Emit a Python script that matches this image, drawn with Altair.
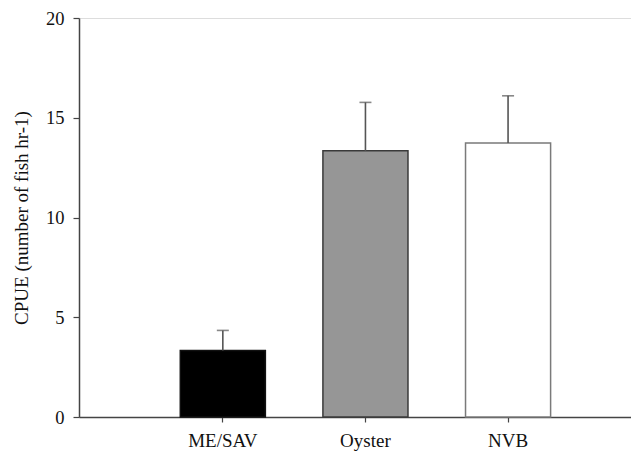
import altair as alt
import pandas as pd

categories = ["ME/SAV", "Oyster", "NVB"]
means = [3.33, 13.34, 13.73]
errors = [1.01, 2.43, 2.37]
fills = ["#000000", "#969696", "#ffffff"]
strokes = ["#111111", "#3a3a3a", "#7a7a7a"]

df = pd.DataFrame({
    "site": categories,
    "mean": means,
    "upper": [m + e for m, e in zip(means, errors)],
})

FONT = "'Liberation Serif', 'Times New Roman', Times, serif"

x_scale = alt.Scale(domain=categories, paddingInner=0.4035, paddingOuter=0.637, align=0.5575)
y_scale = alt.Scale(domain=[0, 20], nice=False, zero=True)

x_axis = alt.Axis(
    title=None, labelAngle=0, labelFont=FONT, labelFontSize=19, labelColor="#111111",
    labelPadding=9, tickSize=5, tickColor="#444444", domainColor="#444444",
    domainWidth=1.5, tickWidth=1.2, grid=False,
)
y_axis = alt.Axis(
    title="CPUE (number of fish hr-1)", titleFont=FONT, titleFontSize=19,
    titleFontWeight="normal", titleColor="#111111", titlePadding=14,
    labelFont=FONT, labelFontSize=18.5, labelColor="#111111", labelPadding=9,
    values=[0, 5, 10, 15, 20], tickSize=6, tickColor="#444444", tickWidth=1.2,
    domainColor="#444444", domainWidth=1.5, grid=False,
)

base = alt.Chart(df)

bars = base.mark_bar(strokeWidth=1.5).encode(
    x=alt.X("site:N", scale=x_scale, axis=x_axis, sort=categories),
    y=alt.Y("mean:Q", scale=y_scale, axis=y_axis),
    fill=alt.Fill("site:N", scale=alt.Scale(domain=categories, range=fills), legend=None),
    stroke=alt.Stroke("site:N", scale=alt.Scale(domain=categories, range=strokes), legend=None),
)

err = base.mark_rule(color="#555555", strokeWidth=1.6).encode(
    x=alt.X("site:N", scale=x_scale, sort=categories),
    y="mean:Q",
    y2="upper:Q",
)

caps = base.mark_tick(color="#555555", thickness=1.6, size=12).encode(
    x=alt.X("site:N", scale=x_scale, sort=categories),
    y="upper:Q",
)

chart = (bars + err + caps).properties(
    width=552, height=399,
    autosize=alt.AutoSizeParams(type="none"),
    padding={"left": 71, "top": 10, "right": 0, "bottom": 36},
).configure_view(stroke=None).configure(background="white")

chart.save("out.html", embed_options={"renderer": "svg", "actions": False})
